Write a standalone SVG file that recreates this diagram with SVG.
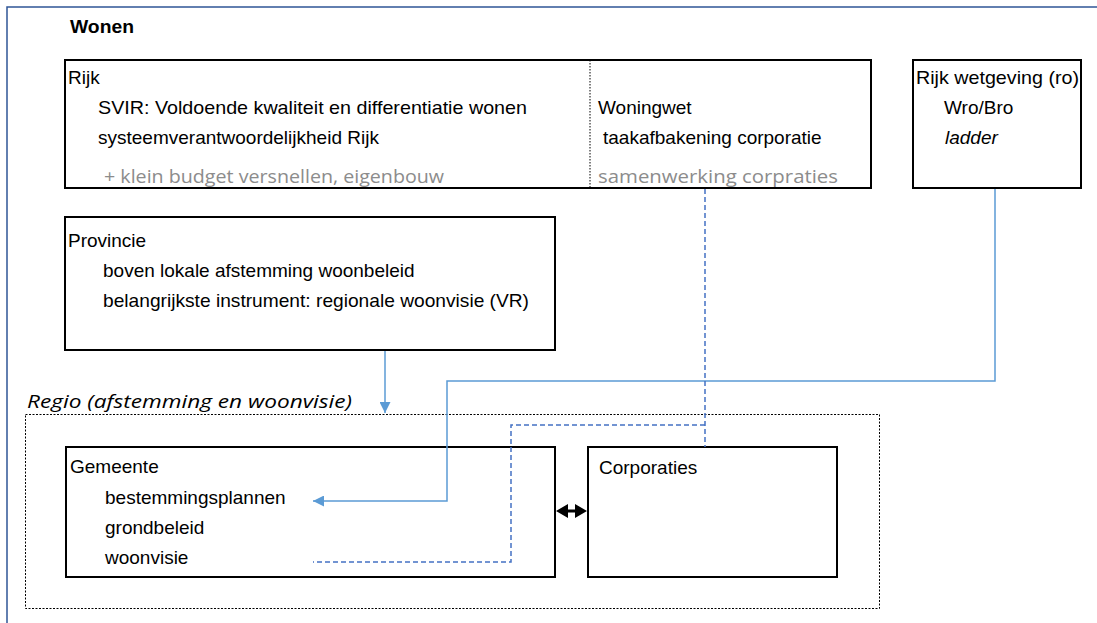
<svg xmlns="http://www.w3.org/2000/svg" width="1097" height="623" viewBox="0 0 1097 623">
<style>
.box{fill:#fff;stroke:#000;stroke-width:2}
.t{font-family:"Liberation Sans",Arial,sans-serif;font-size:19px;fill:#000}
.g{font-family:"Open Sans","Noto Sans",sans-serif;font-size:18px;fill:#8c8c8c}
.i{font-style:italic}
.blue{fill:none;stroke:#5B9BD5;stroke-width:1.5}
.dash{fill:none;stroke:#4472C4;stroke-width:1.5;stroke-dasharray:5 3}
</style>
<defs>
<marker id="ab" viewBox="0 0 10 10" refX="10" refY="5" markerWidth="11" markerHeight="11" orient="auto" markerUnits="userSpaceOnUse">
<path d="M0,0 L10,5 L0,10 z" fill="#5B9BD5"/>
</marker>
</defs>
<rect width="1097" height="623" fill="#fff"/>
<path d="M7,640 V7 H1110" fill="none" stroke="#2F5597" stroke-width="1.5"/>
<text x="70" y="33" font-family="Liberation Sans,Arial,sans-serif" font-weight="bold" font-size="18" textLength="64" lengthAdjust="spacingAndGlyphs">Wonen</text>

<g id="rijk">
<rect class="box" x="65" y="60" width="806" height="128"/>
<line x1="590" y1="60" x2="590" y2="188" stroke="#000" stroke-width="1" stroke-dasharray="1.5 1.5"/>
<text class="t" x="68" y="84">Rijk</text>
<text class="t" x="98" y="114" textLength="429" lengthAdjust="spacingAndGlyphs">SVIR: Voldoende kwaliteit en differentiatie wonen</text>
<text class="t" x="98" y="144">systeemverantwoordelijkheid Rijk</text>
<text class="g" x="104" y="183" textLength="340" lengthAdjust="spacingAndGlyphs">+ klein budget versnellen, eigenbouw</text>
<text class="t" x="598" y="114">Woningwet</text>
<text class="t" x="603" y="144">taakafbakening corporatie</text>
<text class="g" x="598" y="183" textLength="240" lengthAdjust="spacingAndGlyphs">samenwerking corpraties</text>
</g>

<g id="rijk-wetgeving">
<rect class="box" x="913" y="60" width="168" height="128"/>
<text class="t" x="916" y="84" textLength="163" lengthAdjust="spacingAndGlyphs">Rijk wetgeving (ro)</text>
<text class="t" x="944" y="114">Wro/Bro</text>
<text class="t i" x="945" y="144">ladder</text>
</g>

<g id="provincie">
<rect class="box" x="65" y="217" width="490" height="133"/>
<text class="t" x="68" y="247">Provincie</text>
<text class="t" x="103" y="277">boven lokale afstemming woonbeleid</text>
<text class="t" x="103" y="307" textLength="426" lengthAdjust="spacingAndGlyphs">belangrijkste instrument: regionale woonvisie (VR)</text>
</g>

<g id="regio">
<rect x="25.5" y="414.5" width="854" height="194" fill="none" stroke="#000" stroke-width="1" stroke-dasharray="2 1.5"/>
<text x="27" y="408" font-family="Open Sans,Noto Sans,sans-serif" font-style="italic" font-size="19" textLength="325" lengthAdjust="spacingAndGlyphs">Regio (afstemming en woonvisie)</text>
</g>

<g id="gemeente">
<rect class="box" x="66" y="447" width="489" height="130"/>
<text class="t" x="70" y="473">Gemeente</text>
<text class="t" x="105" y="504">bestemmingsplannen</text>
<text class="t" x="105" y="534">grondbeleid</text>
<text class="t" x="105" y="564">woonvisie</text>
</g>

<g id="corporaties">
<rect class="box" x="588" y="447" width="249" height="130"/>
<text class="t" x="599" y="474">Corporaties</text>
</g>

<g id="connectors">
<path class="blue" d="M385,351 V413" marker-end="url(#ab)"/>
<path class="blue" d="M995,189 V381 H447 V501 H313" marker-end="url(#ab)"/>
<path class="dash" d="M705,189 V447"/>
<path class="dash" d="M705,425 H511 V562 H313"/>
<path d="M565,511 H578" stroke="#000" stroke-width="3" fill="none"/>
<path d="M556,511 L568,504 L568,518 z M587,511 L575,504 L575,518 z" fill="#000"/>
</g>
</svg>
